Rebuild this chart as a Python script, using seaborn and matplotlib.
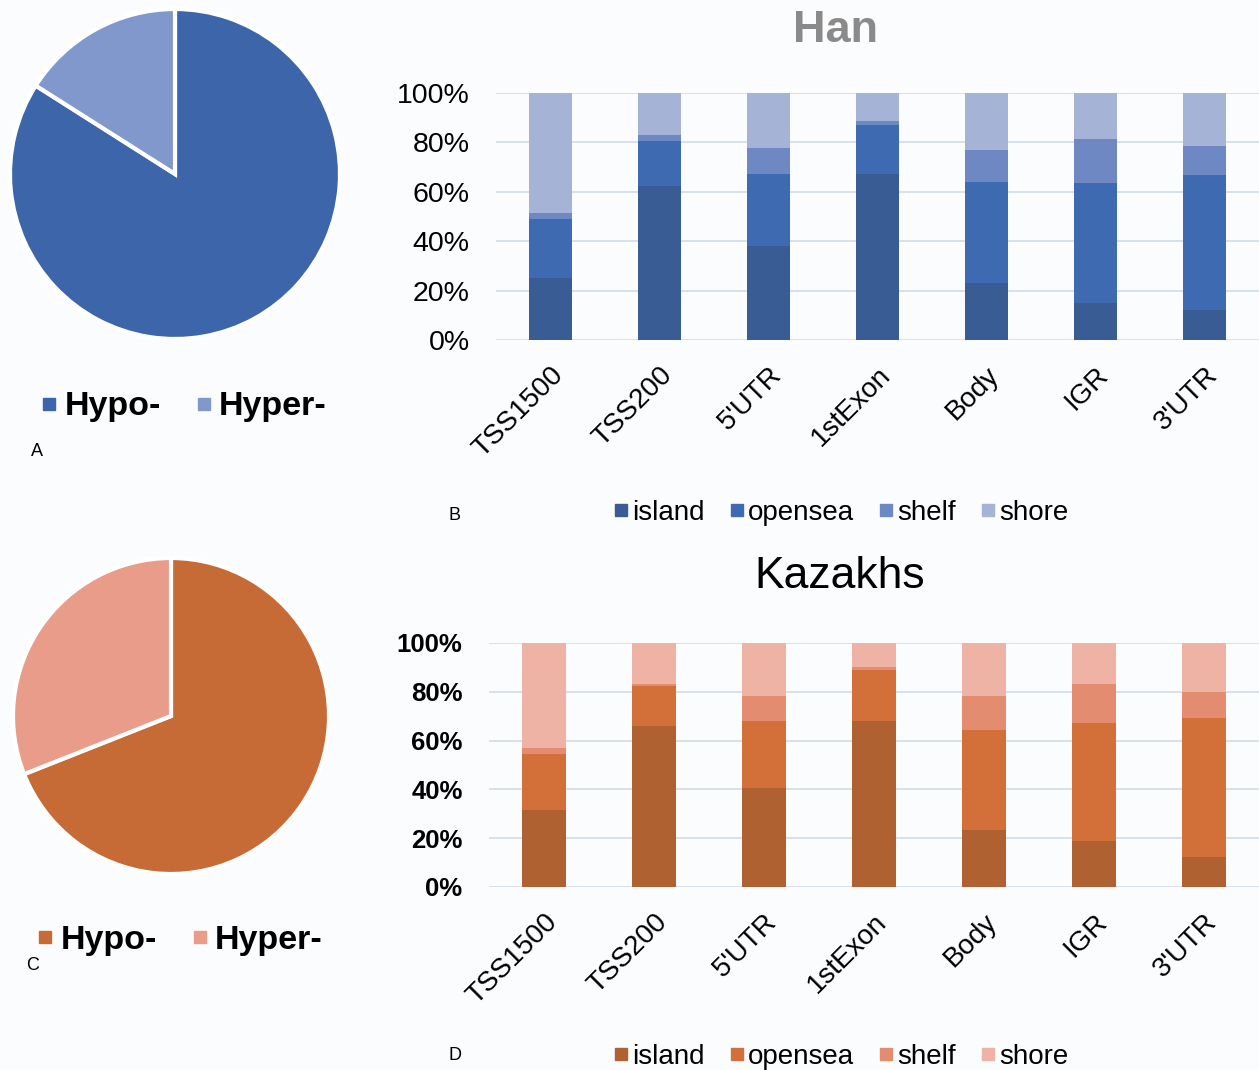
import numpy as np
import matplotlib
matplotlib.use("Agg")
import matplotlib.pyplot as plt
import seaborn as sns
from matplotlib.lines import Line2D

# === data ===
regions = ["TSS1500", "TSS200", "5'UTR", "1stExon", "Body", "IGR", "3'UTR"]
features = ["island", "opensea", "shelf", "shore"]

han_island = [25.3, 62.4, 38.2, 67.3, 23.0, 15.1, 12.2]
han_opensea = [23.6, 18.3, 29.0, 19.9, 40.9, 48.3, 54.7]
han_shelf = [2.5, 2.1, 10.5, 1.3, 13.0, 17.8, 11.6]
han_shore = [48.6, 17.2, 22.3, 11.5, 23.1, 18.8, 21.5]

kaz_island = [31.5, 65.8, 40.4, 68.1, 23.3, 18.9, 12.2]
kaz_opensea = [23.0, 16.4, 27.7, 20.9, 41.1, 48.2, 57.0]
kaz_shelf = [2.3, 1.0, 10.3, 1.0, 13.7, 16.0, 10.7]
kaz_shore = [43.2, 16.8, 21.6, 10.0, 21.9, 16.9, 20.1]

pie_labels = ["Hypo-", "Hyper-"]
han_pie = [84, 16]
kaz_pie = [69, 31]

han_colors = ["#3a5c95", "#3d6ab0", "#6d88c2", "#a4b3d6"]
kaz_colors = ["#b06131", "#d3703a", "#e48c70", "#eeb3a5"]
han_pie_colors = ["#3d66aa", "#8198cc"]
kaz_pie_colors = ["#c76b36", "#e89c89"]

sns.set_theme(style="white")
plt.rcParams['font.family'] = ['Liberation Sans', 'DejaVu Sans']
plt.rcParams['text.color'] = 'black'
plt.rcParams['xtick.color'] = 'black'
plt.rcParams['ytick.color'] = 'black'
bg = "#fbfcfe"

fig = plt.figure(figsize=(12.59, 10.70), dpi=100, facecolor=bg)


def stacked(ax, segs, colors, bold):
    cum = np.cumsum(np.array(segs), axis=0)
    # draw from the top segment down so lower ones cover upper ones
    for i in range(len(segs) - 1, -1, -1):
        sns.barplot(x=regions, y=cum[i], color=colors[i], width=0.4,
                    saturation=1, linewidth=0, edgecolor="none", ax=ax, zorder=3)
    ax.set_facecolor(bg)
    ax.set_xlim(-0.5, 6.5)
    ax.set_ylim(0, 100)
    ax.set_yticks(range(0, 101, 20))
    ax.set_yticklabels([f"{v}%" for v in range(0, 101, 20)],
                       fontsize=18.5 if bold else 20.5,
                       fontweight="bold" if bold else "normal")
    ax.yaxis.grid(True, color="#d5dde7", lw=1.3, zorder=0)
    ax.set_axisbelow(True)
    ax.tick_params(axis="y", length=0, pad=19)
    ax.set_xticks(range(len(regions)))
    ax.set_xticklabels(regions, rotation=45, ha="right", rotation_mode="anchor",
                       fontsize=20)
    ax.tick_params(axis="x", length=0, pad=16)
    ax.set_xlabel("")
    ax.set_ylabel("")
    sns.despine(ax=ax, left=True, bottom=True)


def pie(ax, vals, colors):
    ax.pie(vals, colors=colors, startangle=90, counterclock=False,
           wedgeprops=dict(edgecolor="white", linewidth=3))
    ax.set_xlim(-1.0, 1.0)
    ax.set_ylim(-1.0, 1.0)
    ax.set_aspect("equal")


def sq_handles(colors, size=9):
    return [Line2D([], [], marker="s", ls="", color=c, markersize=size) for c in colors]


# === Han ===
ax_pa = fig.add_axes([10 / 1259, 1 - 340 / 1070, 330 / 1259, 332 / 1070])
pie(ax_pa, han_pie, han_pie_colors)
ax_b = fig.add_axes([496 / 1259, 1 - 340 / 1070, 763 / 1259, 247 / 1070])
stacked(ax_b, [han_island, han_opensea, han_shelf, han_shore], han_colors, False)
fig.text(835 / 1259, 1 - 30 / 1070, "Han", fontsize=32.5, fontweight="bold",
         color="#8a8a8a", ha="center", va="center")

# === Kazakhs ===
ax_pc = fig.add_axes([13 / 1259, 1 - 874 / 1070, 316 / 1259, 316 / 1070])
pie(ax_pc, kaz_pie, kaz_pie_colors)
ax_d = fig.add_axes([489 / 1259, 1 - 887 / 1070, 770 / 1259, 244 / 1070])
stacked(ax_d, [kaz_island, kaz_opensea, kaz_shelf, kaz_shore], kaz_colors, True)
fig.text(840 / 1259, 1 - 577 / 1070, "Kazakhs", fontsize=32,
         color="black", ha="center", va="center")

# === legends ===
fig.legend(sq_handles(han_pie_colors), pie_labels, loc="center",
           bbox_to_anchor=(182 / 1259, 1 - 407 / 1070), ncol=2, frameon=False,
           prop=dict(size=24.5, weight="bold"), handletextpad=0.1,
           columnspacing=0.9, handlelength=0.7, labelcolor="black")
fig.legend(sq_handles(kaz_pie_colors), pie_labels, loc="center",
           bbox_to_anchor=(178 / 1259, 1 - 940 / 1070), ncol=2, frameon=False,
           prop=dict(size=24.5, weight="bold"), handletextpad=0.1,
           columnspacing=0.9, handlelength=0.7, labelcolor="black")
fig.legend(sq_handles(han_colors), features, loc="center",
           bbox_to_anchor=(840 / 1259, 1 - 513 / 1070), ncol=4, frameon=False,
           fontsize=20, handletextpad=0.05, columnspacing=0.8, handlelength=0.7,
           labelcolor="black")
fig.legend(sq_handles(kaz_colors), features, loc="center",
           bbox_to_anchor=(840 / 1259, 1 - 1057 / 1070), ncol=4, frameon=False,
           fontsize=20, handletextpad=0.05, columnspacing=0.8, handlelength=0.7,
           labelcolor="black")

# panel letters
for lbl, x, y in [("A", 37, 452), ("B", 455, 515), ("C", 33, 965), ("D", 455, 1055)]:
    fig.text(x / 1259, 1 - y / 1070, lbl, fontsize=13, ha="center", va="center")

fig.savefig("out.png", dpi=100, facecolor=bg)
